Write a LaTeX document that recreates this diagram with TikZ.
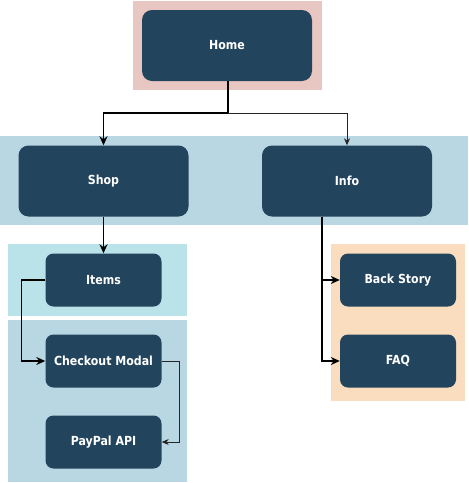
\documentclass[tikz,border=0pt]{standalone}
\usepackage{fontspec}
\setmainfont{DejaVu Sans}
\newfontfamily\pagefont[FakeStretch=0.88]{DejaVu Sans}
\usetikzlibrary{arrows.meta}
\definecolor{pagenode}{HTML}{23445D}
\definecolor{homebg}{HTML}{E8C6C2}
\definecolor{rowbg}{HTML}{B9D6E3}
\definecolor{itembg}{HTML}{B9E3E8}
\definecolor{infobg}{HTML}{FADDBE}
\tikzset{
  bigpage/.style={fill=pagenode, rounded corners=10pt, minimum width=170pt, minimum height=71pt,
    text=white, font=\pagefont\fontsize{12.5}{14}\selectfont\bfseries, inner sep=0pt},
  smallpage/.style={fill=pagenode, rounded corners=8pt, minimum width=116pt, minimum height=53pt,
    text=white, font=\pagefont\fontsize{12.5}{14}\selectfont\bfseries, inner sep=0pt},
  link/.style={draw=black, line width=1.6pt, -{Stealth[length=9pt,width=8pt]}},
  thinlink/.style={draw=black!85, line width=0.9pt, -{Stealth[length=7pt,width=6pt]}}
}
\begin{document}
\begin{tikzpicture}[x=1pt, y=-1pt]
\useasboundingbox (0,0) rectangle (469,483);

% group backgrounds
\fill[homebg] (133,1) rectangle (322,90);
\fill[rowbg] (0,136) rectangle (468,225);
\fill[itembg] (8,244) rectangle (187,316);
\fill[rowbg] (8,320) rectangle (187,482);
\fill[infobg] (331,244) rectangle (465,401);

% pages
\node[bigpage] (home) at (227,45.5) {Home};
\node[bigpage] (shop) at (103.5,181) {Shop};
\node[bigpage] (info) at (347,181) {Info};
\node[smallpage] (items) at (103.5,280) {Items};
\node[smallpage] (checkout) at (103.5,361) {Checkout Modal};
\node[smallpage] (paypal) at (103.5,442) {PayPal API};
\node[smallpage] (story) at (398,280) {Back Story};
\node[smallpage] (faq) at (398,361) {FAQ};

% links
\coordinate (split) at (228,113);
\draw[link] ([xshift=1pt]home.south) -- (split) -| (shop.north);
\draw[thinlink] (split) -| (info.north);
\draw[link] (shop.south) -- (items.north);
\draw[link] (items.west) -- ++(-24,0) |- (checkout.west);
\draw[thinlink] (checkout.east) -- ++(18,0) |- (paypal.east);
\draw[link] ([xshift=-25pt]info.south) |- (story.west);
\draw[link] ([xshift=-25pt]info.south) |- (faq.west);
\end{tikzpicture}
\end{document}
